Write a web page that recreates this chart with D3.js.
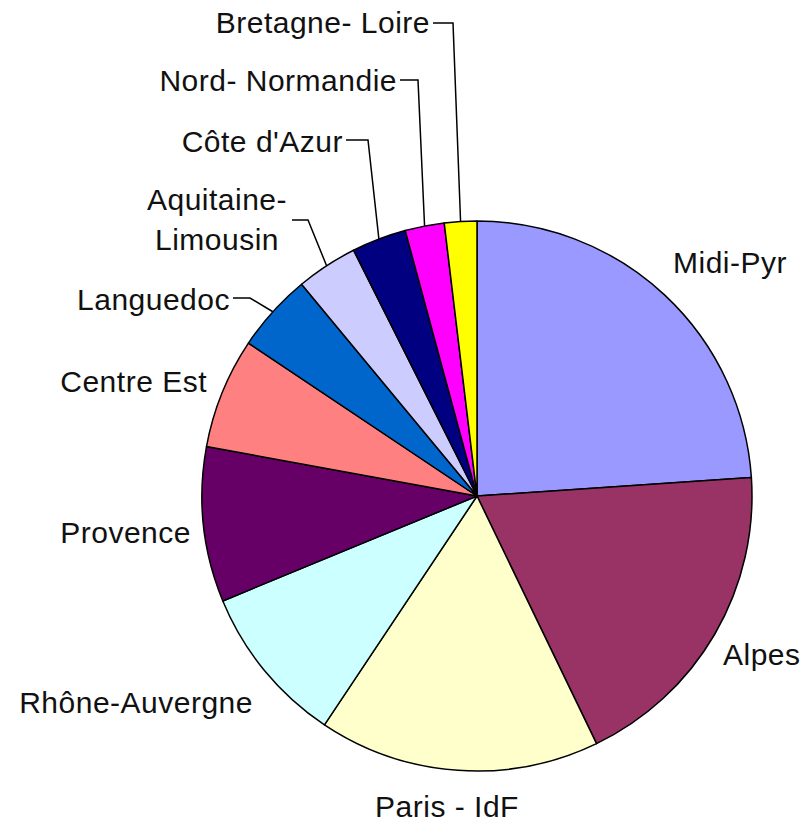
<!DOCTYPE html>
<html>
<head>
<meta charset="utf-8">
<script src="https://cdn.jsdelivr.net/npm/d3@7"></script>
<style>
  body { margin: 0; background: #fff; }
  text { font-family: "Liberation Sans", Arial, sans-serif; font-size: 30px; letter-spacing: 0.5px; fill: #111; }
</style>
</head>
<body>
<svg id="body" width="806" height="823"></svg>
<script>
// regions, clockwise from 12 o'clock (share in %)
let regions = ["Midi-Pyr", "Alpes", "Paris - IdF", "Rhône-Auvergne", "Provence", "Centre Est",
  "Languedoc", "Aquitaine- Limousin", "Côte d'Azur", "Nord- Normandie", "Bretagne- Loire"]
let shares = [23.9, 18.9, 16.5, 9.4, 9.1, 6.5, 4.6, 3.6, 3.2, 2.3, 1.9]
let colors = ["#9999ff", "#993366", "#ffffcc", "#ccffff", "#660066", "#ff8080",
  "#0066cc", "#ccccff", "#000080", "#ff00ff", "#ffff00"]

let body = d3.select("#body")

//pie geometry
let cx = 477, cy = 496, radius = 275

//label placement (baseline x/y, anchor, leader kink x when a leader line is drawn)
let labelLayout = [
  {x: 673, y: 273, anchor: "start"},
  {x: 723, y: 665, anchor: "start"},
  {x: 447, y: 817, anchor: "middle"},
  {x: 253, y: 713, anchor: "end"},
  {x: 191, y: 543, anchor: "end"},
  {x: 207, y: 392, anchor: "end"},
  {x: 230, y: 310, anchor: "end", kink: 250, ly: 298},
  {x: 217, y: 210, anchor: "middle", lines: ["Aquitaine-", "Limousin"], lx: 292, kink: 308, ly: 220},
  {x: 343, y: 152, anchor: "end", kink: 368, ly: 140},
  {x: 397, y: 91, anchor: "end", kink: 418, ly: 80},
  {x: 430, y: 33, anchor: "end", kink: 453, ly: 23}
]

let pie = d3.pie().sort(null).value(d => d)
let arcs = pie(shares)

let arc = d3.arc().innerRadius(0).outerRadius(radius)

let g = body.append("g")
  .attr("transform", "translate(" + cx + "," + cy + ")")

//slices
g.selectAll("path")
  .data(arcs)
  .enter()
  .append("path")
  .attr("d", arc)
  .attr("fill", (d, i) => colors[i])
  .attr("stroke", "#000")
  .attr("stroke-width", 1.5)
  .attr("stroke-linejoin", "round")

//leader lines for the crowded small slices
arcs.forEach(function(d, i) {
  let lay = labelLayout[i]
  if (lay.kink === undefined) return
  let mid = (d.startAngle + d.endAngle) / 2
  let ex = cx + radius * Math.sin(mid)
  let ey = cy - radius * Math.cos(mid)
  let sx = lay.lx !== undefined ? lay.lx : lay.x + 3
  body.append("polyline")
    .attr("points", [[sx, lay.ly], [lay.kink, lay.ly], [ex, ey]].map(p => p.join(",")).join(" "))
    .attr("fill", "none")
    .attr("stroke", "#000")
    .attr("stroke-width", 1.5)
})

//labels
regions.forEach(function(name, i) {
  let lay = labelLayout[i]
  let t = body.append("text")
    .attr("x", lay.x)
    .attr("y", lay.y)
    .attr("text-anchor", lay.anchor)
  if (lay.lines) {
    lay.lines.forEach(function(line, j) {
      t.append("tspan")
        .attr("x", lay.x)
        .attr("dy", j === 0 ? 0 : 40)
        .text(line)
    })
  } else {
    t.text(name)
  }
})
</script>
</body>
</html>
